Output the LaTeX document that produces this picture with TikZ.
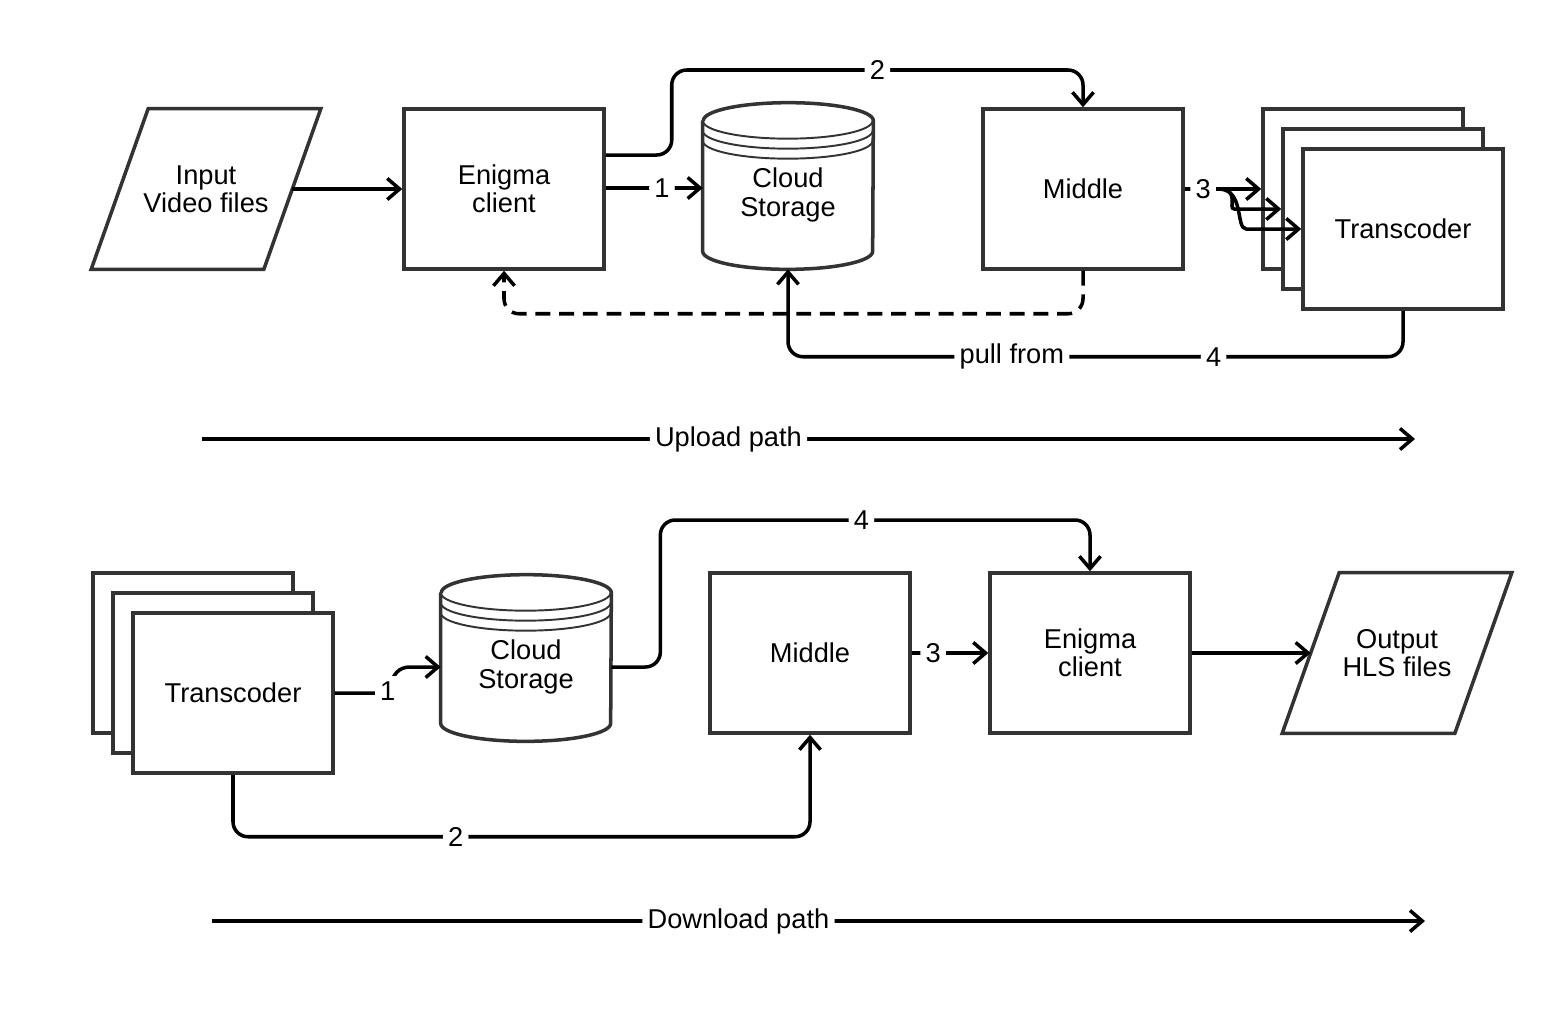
\documentclass[tikz,border=0pt]{standalone}
\usepackage{fontspec}
\setmainfont{Liberation Sans}
\usetikzlibrary{arrows.meta,calc}

\definecolor{boxgray}{HTML}{333333}

\tikzset{
    boxline/.style={draw=boxgray, line width=2pt},
    block/.style={rectangle, boxline, fill=white, minimum width=4cm, minimum height=3.2cm, align=center},
    holder/.style={rectangle, minimum width=3.44cm, minimum height=3.2cm, align=center},
    drum/.style={rectangle, minimum width=3.4cm, minimum height=2.96cm, align=center},
    flow/.style={line width=2pt, -{Straight Barb[length=7pt,width=12pt]}, rounded corners=0.3cm},
    dashflow/.style={flow, dash pattern=on 8.5pt off 5pt},
    lbl/.style={fill=white, inner sep=3pt}
}

% parallelogramma attorno a un nodo
\newcommand{\slantbox}[1]{%
    \draw[boxline] ($(#1.north west)+(28.5,0)$) -- ($(#1.north east)+(28.5,0)$)
        -- ($(#1.south east)+(-28.5,0)$) -- ($(#1.south west)+(-28.5,0)$) -- cycle;
}
% cilindro attorno a un nodo
\newcommand{\drumbox}[1]{%
    \draw[boxline] (#1.north west) -- ($(#1.south west)+(0,-18)$)
        arc[start angle=180, end angle=0, x radius=85, y radius=18]
        -- (#1.north east) arc[start angle=0, end angle=-180, x radius=85, y radius=18];
    \foreach \dy in {0,10,20}
        \draw[draw=boxgray, line width=1.1pt] ($(#1.north west)+(0,\dy)$)
            arc[start angle=180, end angle=0, x radius=85, y radius=18];
}

\begin{document}
\begin{tikzpicture}[x=0.02cm, y=-0.02cm, font=\fontsize{15.5}{16}\selectfont]
    \useasboundingbox (0,0) rectangle (1555,1022);

    % Percorso di upload
    \node[holder] (inp1) at (206,189) {Input\\Video files};
    \slantbox{inp1}
    \node[block] (enc1) at (504,189) {Enigma\\client};
    \node[drum] (cs1) at (788,195) {Cloud\\Storage};
    \drumbox{cs1}
    \node[block] (mid1) at (1083,189) {Middle};
    \node[block] (tcA) at (1363,189) {};
    \node[block] (tcB) at (1383,209) {};
    \node[block] (tcC) at (1403,229) {Transcoder};

    \draw[flow] (inp1.east) -- (enc1.west);
    \draw[flow] ($(enc1.east)+(0,-1)$) -- node[lbl, pos=0.58] {1} ($(cs1.west)+(0,-7)$);
    \draw[flow] ($(enc1.east)+(0,-34)$) -- ++(66,0) -- ++(0,-85)
        -| node[lbl, pos=0.25] {2} (mid1.north);
    \draw[flow] (mid1.east) -- node[lbl, pos=0.24] {3} (tcA.west);
    \coordinate (br1) at ($(mid1.east)+(34,0)$);
    \draw[flow] (br1) .. controls +(22,0) and +(-22,0) .. ($(tcB.west)+(-32,0)$) -- (tcB.west);
    \draw[flow] (br1) .. controls +(26,0) and +(-26,0) .. ($(tcC.west)+(-40,0)$) -- (tcC.west);
    \draw[dashflow] (mid1.south) -- ++(0,43) -| (enc1.south);
    \draw[flow] (tcC.south) -- ++(0,46)
        -| node[lbl, pos=0.154] {4} node[lbl, pos=0.318] {pull from} (cs1.south);

    \coordinate (up1) at (202,439);
    \coordinate (up2) at (1415,439);
    \draw[flow] (up1) -- node[lbl, pos=0.434] {Upload path} (up2);

    % Percorso di download
    \node[block] (tc2a) at (193,653) {};
    \node[block] (tc2b) at (213,673) {};
    \node[block] (tc2c) at (233,693) {Transcoder};
    \node[drum] (cs2) at (526,667) {Cloud\\Storage};
    \drumbox{cs2}
    \node[block] (mid2) at (810,653) {Middle};
    \node[block] (enc2) at (1090,653) {Enigma\\client};
    \node[holder] (out2) at (1397,653) {Output\\HLS files};
    \slantbox{out2}

    \draw[flow, rounded corners=0pt] (tc2c.east) -- ++(53,0)
        .. controls +(5,-20) and +(-12,0) .. ($(cs2.west)+(-30,0)$) -- (cs2.west);
    \node[lbl] (one2) at ($(tc2c.east)+(53,-2)$) {1};
    \draw[flow] (tc2c.south) -- ++(0,62) -| node[lbl, pos=0.193] {2} (mid2.south);
    \draw[flow] (mid2.east) -- node[lbl, pos=0.28] {3} (enc2.west);
    \draw[flow] (cs2.east) -- ++(49,0) -- ++(0,-147)
        -| node[lbl, pos=0.234] {4} (enc2.north);
    \draw[flow] (enc2.east) -- (out2.west);

    \coordinate (dn1) at (212,921);
    \coordinate (dn2) at (1425,921);
    \draw[flow] (dn1) -- node[lbl, pos=0.434] {Download path} (dn2);
\end{tikzpicture}
\end{document}
